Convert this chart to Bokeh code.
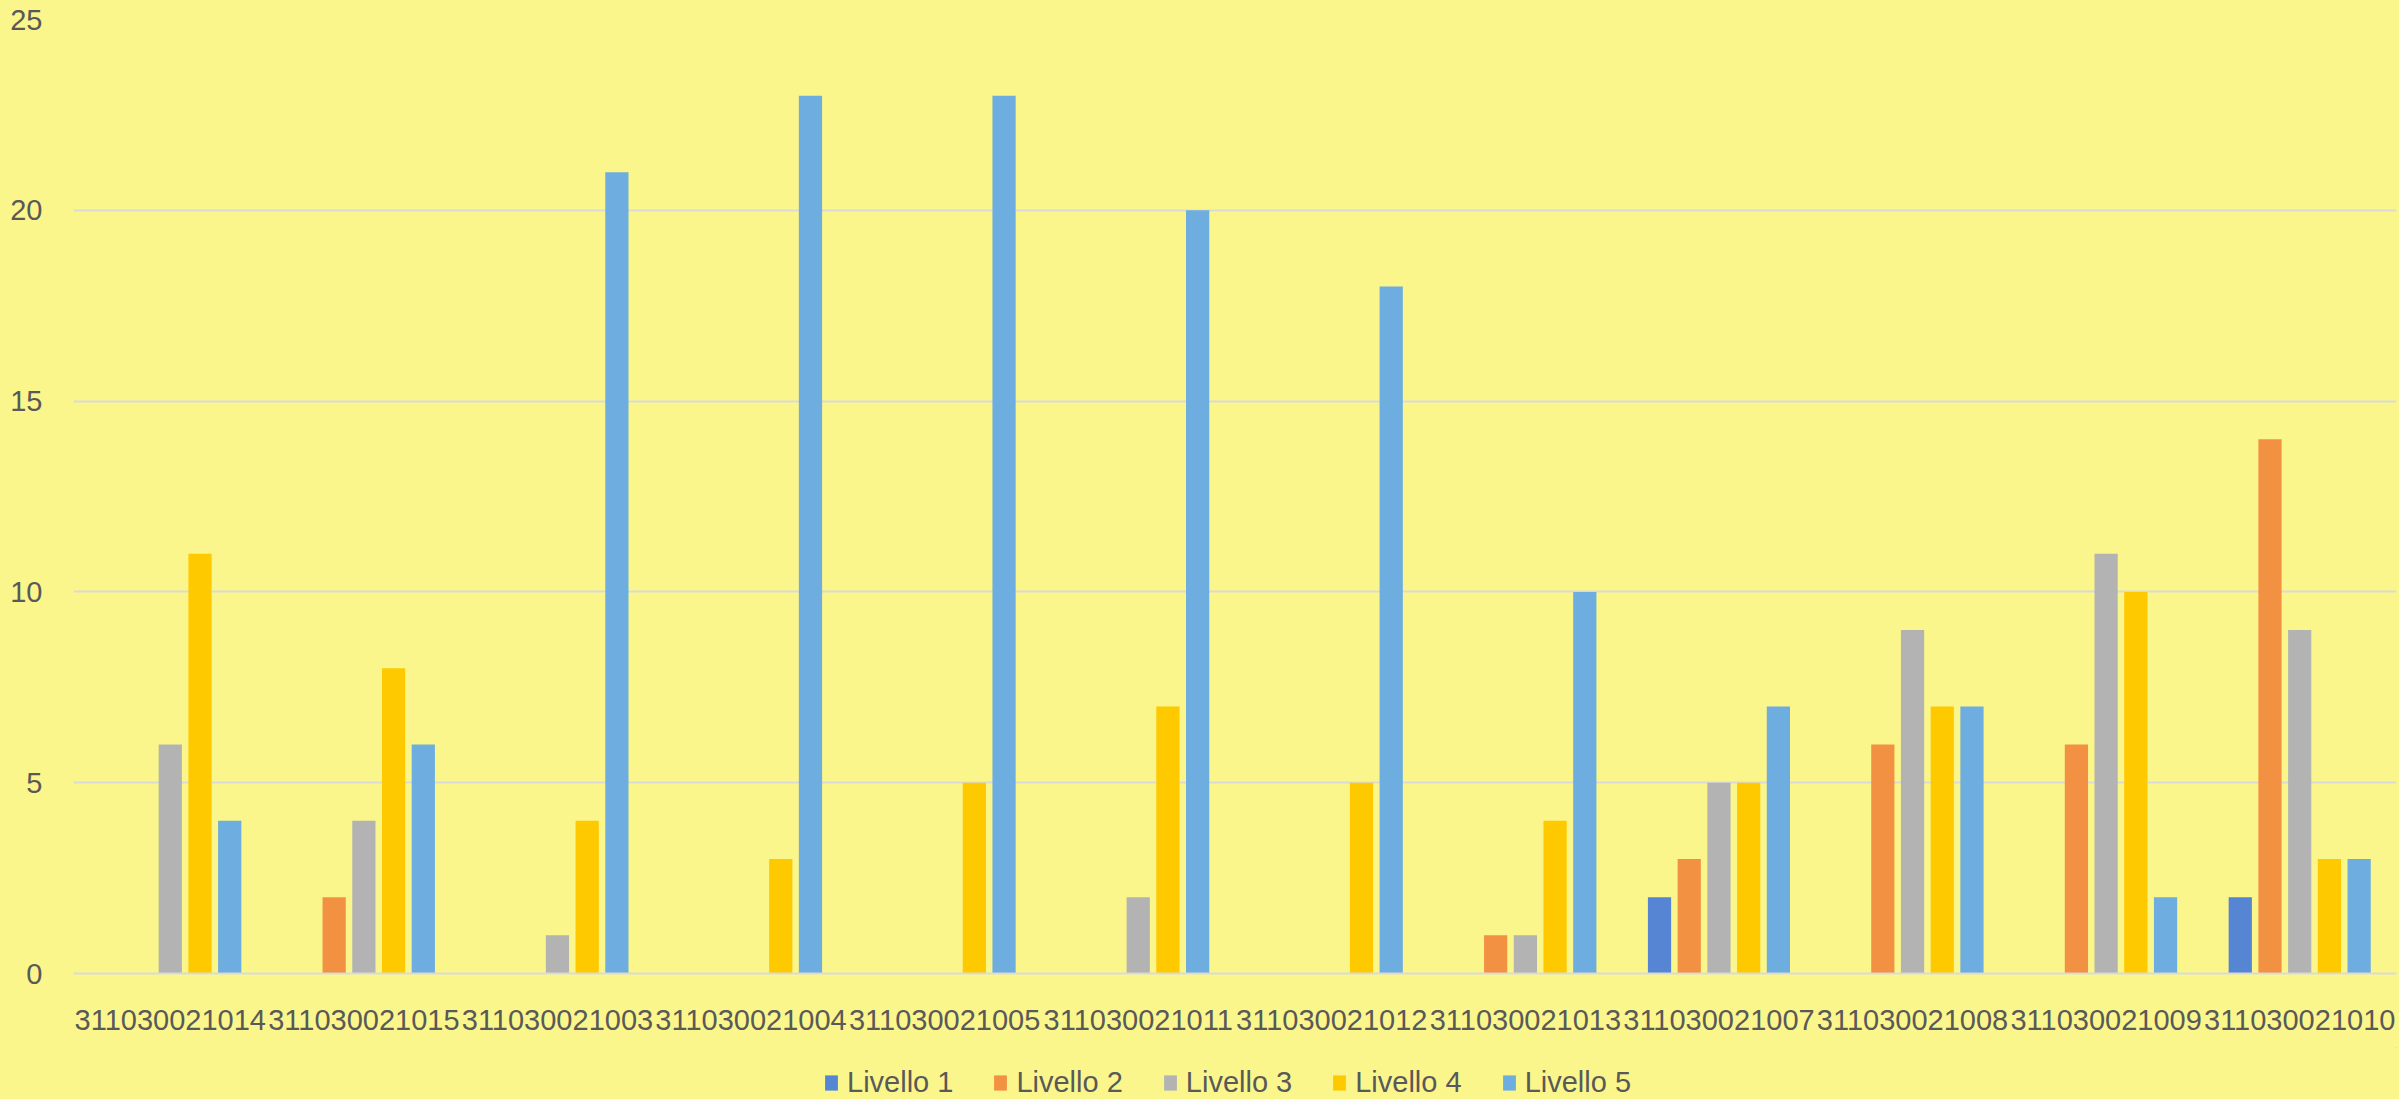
from bokeh.plotting import figure
from bokeh.layouts import column
from bokeh.models import FactorRange, Range1d, FixedTicker, Legend, LegendItem
from bokeh.transform import dodge
from bokeh.embed import file_html
from bokeh.resources import INLINE

categories = ["311030021014", "311030021015", "311030021003", "311030021004",
              "311030021005", "311030021011", "311030021012", "311030021013",
              "311030021007", "311030021008", "311030021009", "311030021010"]
livello_1 = [0, 0, 0, 0, 0, 0, 0, 0, 2, 0, 0, 2]
livello_2 = [0, 2, 0, 0, 0, 0, 0, 1, 3, 6, 6, 14]
livello_3 = [6, 4, 1, 0, 0, 2, 0, 1, 5, 9, 11, 9]
livello_4 = [11, 8, 4, 3, 5, 7, 5, 4, 5, 7, 10, 3]
livello_5 = [4, 6, 21, 23, 23, 20, 18, 10, 7, 7, 2, 3]
series_names = ["Livello 1", "Livello 2", "Livello 3", "Livello 4", "Livello 5"]
y_ticks = [0, 5, 10, 15, 20, 25]

series = [livello_1, livello_2, livello_3, livello_4, livello_5]
colors = ["#5585D3", "#F39143", "#B3B3B3", "#FFC900", "#6DADDF"]
BG = "#FBF68C"
FONT = "Liberation Sans"

p = figure(x_range=FactorRange(*categories), y_range=Range1d(0, 25),
           width=2399, height=1047, output_backend="svg", toolbar_location=None,
           background_fill_color=BG, border_fill_color=BG, outline_line_color=None,
           min_border_left=73, min_border_right=3, min_border_top=19, min_border_bottom=74)

data = {"cat": categories}
for name, vals in zip(series_names, series):
    data[name] = vals

step = 0.1535
for i, (name, col) in enumerate(zip(series_names, colors)):
    p.vbar(x=dodge("cat", (i - 2) * step, range=p.x_range), top=name, width=0.12,
           source=data, fill_color=col, line_color=None)

p.xgrid.grid_line_color = None
p.ygrid.grid_line_color = "#D9D9D9"
p.ygrid.grid_line_width = 2
p.yaxis.ticker = FixedTicker(ticks=y_ticks)

for ax in (p.xaxis[0], p.yaxis[0]):
    ax.major_tick_line_color = None
    ax.minor_tick_line_color = None
    ax.major_label_text_font = FONT
    ax.major_label_text_font_size = "29px"
    ax.major_label_text_color = "#595959"
p.yaxis.axis_line_color = None
p.yaxis.major_label_standoff = 25
p.xaxis.axis_line_color = "#D9D9D9"
p.xaxis.axis_line_width = 2
p.xaxis.major_label_standoff = 30
p.xaxis.group_text_font_size = "0px"

# legend strip below the chart (swatch renderers sit outside the visible range)
lg = figure(width=2399, height=52, x_range=Range1d(0, 1), y_range=Range1d(0, 1),
            x_axis_type=None, y_axis_type=None, output_backend="svg", toolbar_location=None,
            background_fill_color=BG, border_fill_color=BG, outline_line_color=None,
            min_border=0)
lg.xgrid.visible = False
lg.ygrid.visible = False
items = []
for name, col in zip(series_names, colors):
    r = lg.vbar(x=[50], top=[50], bottom=[40], width=0.1, fill_color=col, line_color=None)
    items.append(LegendItem(label=name, renderers=[r]))
legend = Legend(items=items, orientation="horizontal", location=(750, 0),
                background_fill_alpha=0, border_line_color=None,
                label_text_font=FONT, label_text_font_size="29px", label_text_color="#595959",
                glyph_width=16, glyph_height=19, label_standoff=8, spacing=39,
                margin=0, padding=0)
lg.add_layout(legend, "center")

layout = column(p, lg, spacing=0, styles={"background-color": BG})
html = file_html(layout, INLINE)
html = html.replace("<body>", "<body style=\"background:%s\">" % BG, 1)
open("out.html", "w").write(html)
